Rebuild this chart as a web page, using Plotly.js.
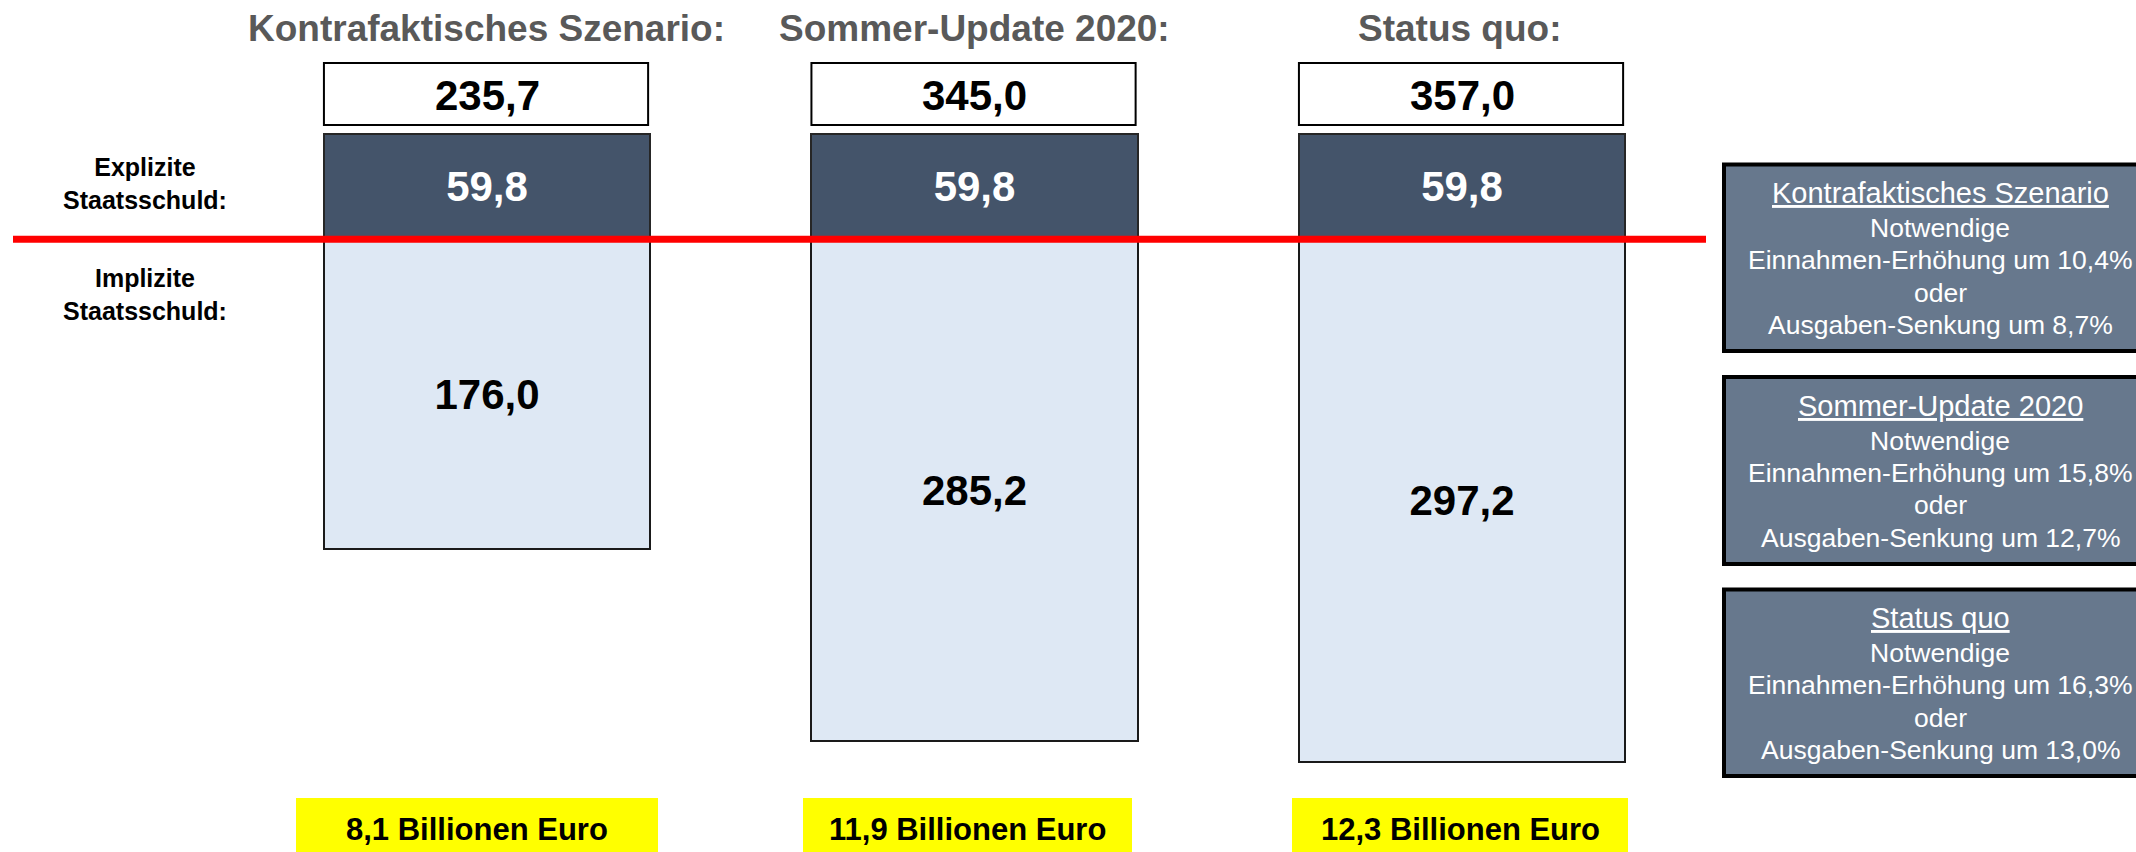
<!DOCTYPE html>
<html><head><meta charset="utf-8">
<script src="https://cdn.plot.ly/plotly-3.0.1.min.js"></script>
<style>html,body{margin:0;padding:0;background:#fff;overflow:hidden;} #chart{width:2136px;height:852px;}</style>
</head><body><div id="chart"></div>
<script>
// ---- data ----
const scenarios = ['Kontrafaktisches Szenario', 'Sommer-Update 2020', 'Status quo'];
const explicitDebt = [59.8, 59.8, 59.8];
const implicitDebt = [176.0, 285.2, 297.2];
const totalDebt = [235.7, 345.0, 357.0];
const trillionEuro = [8.1, 11.9, 12.3];
const revenueIncrease = [10.4, 15.8, 16.3];
const spendingCut = [8.7, 12.7, 13.0];
const rowLabels = ['Explizite<br>Staatsschuld:', 'Implizite<br>Staatsschuld:'];

// ---- helpers ----
const W = 2136, H = 852;
const FONT = 'Liberation Sans, Arial, sans-serif';
const px = v => v / W;
const py = v => 1 - v / H;
const fmt = v => v.toFixed(1).replace('.', ',');
const BARW = 0.669;

const traces = [
  {type: 'bar', x: scenarios, y: explicitDebt, width: BARW,
   marker: {color: '#44546A', line: {color: '#262626', width: 2}},
   texttemplate: '%{y:.1f}', textposition: 'inside', insidetextanchor: 'middle', constraintext: 'none',
   textfont: {family: FONT, size: 42, color: '#FFFFFF', weight: 'bold'}, hoverinfo: 'skip'},
  {type: 'bar', x: scenarios, y: implicitDebt, width: BARW,
   marker: {color: '#DEE8F4', line: {color: '#1A1A1A', width: 2}},
   texttemplate: '%{y:.1f}', textposition: 'inside', insidetextanchor: 'middle', constraintext: 'none',
   textfont: {family: FONT, size: 42, color: '#000000', weight: 'bold'}, hoverinfo: 'skip'}
];

const shapes = [];
const annotations = [];

// column titles and total boxes
const titleCenters = [486, 974, 1459];
scenarios.forEach((s, i) => {
  annotations.push({xref: 'paper', yref: 'paper', x: px(titleCenters[i]), y: py(28.5), xanchor: 'center', yanchor: 'middle',
    text: s + ':', showarrow: false, font: {family: FONT, size: 37, color: '#595959', weight: 'bold'}});
  shapes.push({type: 'rect', xref: 'x', yref: 'paper', x0: i - BARW / 2, x1: i + BARW / 2 - 0.004, y0: py(125), y1: py(63),
    fillcolor: '#FFFFFF', line: {color: '#000000', width: 2}});
  annotations.push({xref: 'x', yref: 'paper', x: s, y: py(95), xanchor: 'center', yanchor: 'middle',
    text: fmt(totalDebt[i]), showarrow: false, font: {family: FONT, size: 42, color: '#000000', weight: 'bold'}});
});

// red separator line at explicit/implicit boundary
shapes.push({type: 'line', xref: 'paper', yref: 'y', x0: px(13), x1: px(1706), y0: explicitDebt[0], y1: explicitDebt[0],
  line: {color: '#FF0000', width: 7}});

// row labels
[183, 295].forEach((yy, k) => {
  annotations.push({xref: 'paper', yref: 'paper', x: px(145), y: py(yy), xanchor: 'center', yanchor: 'middle',
    text: rowLabels[k], align: 'center', showarrow: false, font: {family: FONT, size: 25, color: '#000000', weight: 'bold'}});
});

// yellow boxes
const yellowBoxes = [[296, 658], [803, 1132], [1292, 1628]];
yellowBoxes.forEach((b, i) => {
  shapes.push({type: 'rect', xref: 'paper', yref: 'paper', x0: px(b[0]), x1: px(b[1]), y0: py(870), y1: py(798),
    fillcolor: '#FFFF00', line: {width: 0}, layer: 'below'});
  annotations.push({xref: 'paper', yref: 'paper', x: px((b[0] + b[1]) / 2), y: py(829), xanchor: 'center', yanchor: 'middle',
    text: fmt(trillionEuro[i]) + ' Billionen Euro', showarrow: false, font: {family: FONT, size: 31, color: '#000000', weight: 'bold'}});
});

// right info boxes
const boxes = [[162.5, 353], [375, 566], [587.5, 778]];
scenarios.forEach((s, j) => {
  const top = boxes[j][0], bot = boxes[j][1], cy = (top + bot) / 2;
  shapes.push({type: 'rect', xref: 'paper', yref: 'paper', x0: px(1724), x1: px(2180), y0: py(bot - 2), y1: py(top + 2),
    fillcolor: '#67788D', line: {color: '#000000', width: 4}});
  const lines = [
    '<span style="text-decoration:underline">' + s + '</span>',
    'Notwendige',
    'Einnahmen-Erhöhung um ' + fmt(revenueIncrease[j]) + '%',
    'oder',
    'Ausgaben-Senkung um ' + fmt(spendingCut[j]) + '%'
  ];
  const offs = [-64.5, -30, 2.5, 34.8, 67];
  lines.forEach((t, k) => {
    annotations.push({xref: 'paper', yref: 'paper', x: px(1940), y: py(cy + offs[k]), xanchor: 'center', yanchor: 'middle',
      text: t, showarrow: false, font: {family: FONT, size: k === 0 ? 29 : 26.5, color: '#FFFFFF'}});
  });
});

const layout = {
  width: W, height: H,
  margin: {l: 0, r: 0, t: 0, b: 0},
  paper_bgcolor: '#FFFFFF', plot_bgcolor: '#FFFFFF',
  barmode: 'stack', showlegend: false, separators: ',.',
  xaxis: {type: 'category', range: [-487 / 487.5, (W - 487) / 487.5], visible: false, fixedrange: true},
  yaxis: {range: [(H - 134) / 1.76, -134 / 1.76], visible: false, fixedrange: true},
  shapes: shapes, annotations: annotations
};

Plotly.newPlot('chart', traces, layout, {staticPlot: true, displayModeBar: false});
</script>
</body></html>
